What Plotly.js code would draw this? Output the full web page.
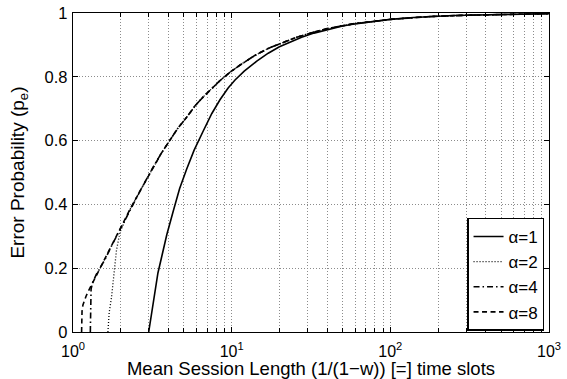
<!DOCTYPE html>
<html>
<head>
<meta charset="utf-8">
<script src="https://cdn.plot.ly/plotly-3.0.1.min.js"></script>
<style>html,body{margin:0;padding:0;background:#fff;}#chart{width:567px;height:379px;}</style>
</head>
<body>
<div id="chart"></div>
<script>
// Mean session length values (x) and error probability (y)
var len_a1 = [3.0, 3.1, 3.25, 3.43, 3.65, 3.9, 4.29, 4.7, 5.2, 5.8, 6.62, 7.5, 8.44, 9.5, 10.5, 12, 14.4, 17, 20, 24, 27.6, 33, 40, 50, 58, 75, 100, 140, 178, 250, 300, 500, 1000];
var pe_a1  = [0, 0.048, 0.111, 0.185, 0.243, 0.305, 0.38, 0.45, 0.51, 0.57, 0.63, 0.685, 0.728, 0.765, 0.79, 0.818, 0.849, 0.874, 0.894, 0.912, 0.924, 0.937, 0.948, 0.959, 0.965, 0.973, 0.98, 0.986, 0.989, 0.992, 0.993, 0.996, 0.998];

var len_a2 = [1.66, 1.69, 1.75, 1.80, 1.88, 1.98, 2.29, 2.7, 3.21, 3.6, 4.09, 4.6, 5.2, 5.9, 6.62, 7.5, 8.44, 9.8, 11.3, 14, 17, 20, 25.7, 33, 40, 58, 100, 178, 300, 1000];
var pe_a2  = [0, 0.06, 0.11, 0.173, 0.257, 0.314, 0.385, 0.45, 0.518, 0.56, 0.602, 0.64, 0.673, 0.71, 0.737, 0.764, 0.788, 0.815, 0.837, 0.867, 0.889, 0.903, 0.924, 0.94, 0.951, 0.966, 0.98, 0.989, 0.993, 0.998];

var len_a4 = [1.286, 1.288, 1.291, 1.30, 1.33, 1.40, 1.48, 1.6, 1.75, 2.0, 2.29, 2.7, 3.21, 3.6, 4.09, 4.6, 5.2, 5.9, 6.62, 7.5, 8.44, 9.8, 11.3, 14, 17, 20, 25.7, 33, 40, 58, 100, 178, 300, 1000];
var pe_a4  = [0, 0.05, 0.1, 0.135, 0.155, 0.18, 0.2, 0.23, 0.27, 0.325, 0.385, 0.45, 0.518, 0.56, 0.602, 0.64, 0.673, 0.71, 0.737, 0.764, 0.788, 0.815, 0.837, 0.867, 0.889, 0.903, 0.924, 0.94, 0.951, 0.966, 0.98, 0.989, 0.993, 0.998];

var len_a8 = [1.133, 1.135, 1.14, 1.155, 1.18, 1.21, 1.25, 1.31, 1.4, 1.48, 1.6, 1.75, 2.0, 2.29, 2.7, 3.21, 3.6, 4.09, 4.6, 5.2, 5.9, 6.62, 7.5, 8.44, 9.8, 11.3, 14, 17, 20, 25.7, 33, 40, 58, 100, 178, 300, 1000];
var pe_a8  = [0, 0.035, 0.065, 0.085, 0.1, 0.113, 0.128, 0.148, 0.176, 0.2, 0.23, 0.27, 0.325, 0.385, 0.45, 0.518, 0.56, 0.602, 0.64, 0.673, 0.71, 0.737, 0.764, 0.788, 0.815, 0.837, 0.867, 0.889, 0.903, 0.924, 0.94, 0.951, 0.966, 0.98, 0.989, 0.993, 0.998];

var seriesNames = ['α=1', 'α=2', 'α=4', 'α=8'];
var xTickVals = [1, 10, 100, 1000];
var xTickText = ['10<sup>0</sup>', '10<sup>1</sup>', '10<sup>2</sup>', '10<sup>3</sup>'];
var xMinorVals = [2,3,4,5,6,7,8,9,20,30,40,50,60,70,80,90,200,300,400,500,600,700,800,900];
var yTickVals = [0, 0.2, 0.4, 0.6, 0.8, 1];
var yTickText = ['0', '0.2', '0.4', '0.6', '0.8', '1'];

var FONT = 'Liberation Sans, Arial, sans-serif';
function tr(x, y, name, dash, g, w) {
  return {x: x, y: y, name: name, type: 'scatter', mode: 'lines', legendgroup: g,
          line: {color: '#000', width: w, dash: dash, shape: 'linear'}};
}
var data = [
  tr(len_a1, pe_a1, seriesNames[0], 'solid', 'g1', 1.6),
  tr(len_a2, pe_a2, seriesNames[1], '1px,2px', 'g2', 1.3),
  tr(len_a4, pe_a4, seriesNames[2], '6px,3px,1.5px,3px', 'g3', 1.6),
  tr(len_a8, pe_a8, seriesNames[3], '5px,3.5px', 'g4', 1.6)
];
var gridc = '#8c8c8c';
var gdash = '1px,2px';
var layout = {
  width: 567, height: 379,
  margin: {l: 73, r: 18, t: 13, b: 47},
  paper_bgcolor: '#fff', plot_bgcolor: '#fff',
  font: {family: FONT, size: 17, color: '#000'},
  showlegend: true,
  legend: {x: 0.99, y: 0.004, xanchor: 'right', yanchor: 'bottom',
           bgcolor: '#fff', bordercolor: '#000', borderwidth: 1.3,
           font: {family: FONT, size: 17, color: '#000'}, tracegroupgap: 0},
  xaxis: {type: 'log', range: [0, 3], tickmode: 'array', tickvals: xTickVals, ticktext: xTickText,
          ticks: 'inside', ticklen: 5, tickcolor: '#000', showline: true, linecolor: '#000', linewidth: 1.3,
          mirror: 'ticks', showgrid: true, gridcolor: gridc, griddash: gdash, gridwidth: 1,
          zeroline: false, automargin: false, tickfont: {size: 16}, ticklabelstandoff: 4,
          minor: {tickmode: 'array', tickvals: xMinorVals, ticks: 'inside', ticklen: 4, tickcolor: '#000',
                  showgrid: true, gridcolor: gridc, griddash: gdash, gridwidth: 1},
          title: {text: 'Mean Session Length (1/(1\u2212w)) [=] time slots', font: {size: 18.5}, standoff: 6}},
  yaxis: {range: [0, 1], tickmode: 'array', tickvals: yTickVals, ticktext: yTickText,
          ticks: 'inside', ticklen: 5, tickcolor: '#000', showline: true, linecolor: '#000', linewidth: 1.3,
          mirror: 'ticks', showgrid: true, gridcolor: gridc, griddash: gdash, gridwidth: 1,
          zeroline: false, automargin: false, tickfont: {size: 16.5}, ticklabelstandoff: 1,
          title: {text: 'Error Probability (p<sub>e</sub>)', font: {size: 19}, standoff: 14}}
};
Plotly.newPlot('chart', data, layout, {staticPlot: true, displayModeBar: false});
</script>
</body>
</html>
